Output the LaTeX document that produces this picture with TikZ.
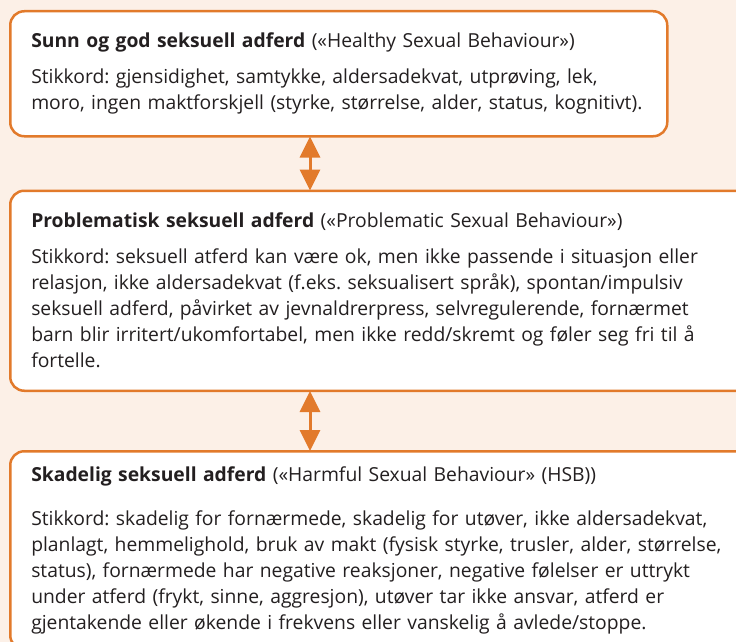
\documentclass[tikz,border=0pt]{standalone}
\usepackage{fontspec}
\setmainfont{Open Sans}
\usepackage{xcolor}
\usetikzlibrary{arrows.meta,positioning}
\definecolor{bgpeach}{HTML}{FCF0E7}
\definecolor{boxorange}{HTML}{E27A2B}
\definecolor{textdark}{HTML}{231F20}
\frenchspacing

\begin{document}
\begin{tikzpicture}[x=1pt,y=-1pt,font=\fontsize{19.3}{26}\selectfont,every text node part/.style={align=left},
	levelbox/.style={draw=boxorange,fill=white,line width=2.5pt,rounded corners=14pt,inner xsep=21pt,inner ysep=0pt,text=textdark},
	twoway/.style={boxorange,line width=3pt,{Triangle[width=20pt,length=21pt]}-{Triangle[width=20pt,length=21pt]},shorten <=-1pt,shorten >=-1pt}]
	\fill[bgpeach] (0,0) rectangle (736,642);
	\useasboundingbox (0,0) rectangle (736,642);

	\node (healthy) at (9,10) [levelbox,anchor=north west,text width=615pt,minimum height=125pt] {\textbf{Sunn og god seksuell adferd} («Healthy Sexual Behaviour»)\\[10pt]
Stikkord: gjensidighet, samtykke, aldersadekvat, utprøving, lek,\\
moro, ingen maktforskjell (styrke, størrelse, alder, status, kognitivt).};
	\node (problematic) [levelbox,below=52pt of healthy.south west,anchor=north west,text width=720pt,minimum height=200pt] {\textbf{Problematisk seksuell adferd} («Problematic Sexual Behaviour»)\\[10pt]
Stikkord: seksuell atferd kan være ok, men ikke passende i situasjon eller\\
relasjon, ikke aldersadekvat (f.eks. seksualisert språk), spontan/impulsiv\\
seksuell adferd, påvirket av jevnaldrerpress, selvregulerende, fornærmet\\
barn blir irritert/ukomfortabel, men ikke redd/skremt og føler seg fri til å\\
fortelle.};
	\node (harmful) [levelbox,below=58pt of problematic.south west,anchor=north west,text width=720pt,minimum height=198pt] {\textbf{Skadelig seksuell adferd} («Harmful Sexual Behaviour» (HSB))\\[18pt]
Stikkord: skadelig for fornærmede, skadelig for utøver, ikke aldersadekvat,\\
planlagt, hemmelighold, bruk av makt (fysisk styrke, trusler, alder, størrelse,\\
status), fornærmede har negative reaksjoner, negative følelser er uttrykt\\
under atferd (frykt, sinne, aggresjon), utøver tar ikke ansvar, atferd er\\
gjentakende eller økende i frekvens eller vanskelig å avlede/stoppe.};

	\coordinate (axis) at (310,0);
	\draw[twoway] (healthy.south -| axis) -- (problematic.north -| axis);
	\draw[twoway] (problematic.south -| axis) -- (harmful.north -| axis);
\end{tikzpicture}
\end{document}
